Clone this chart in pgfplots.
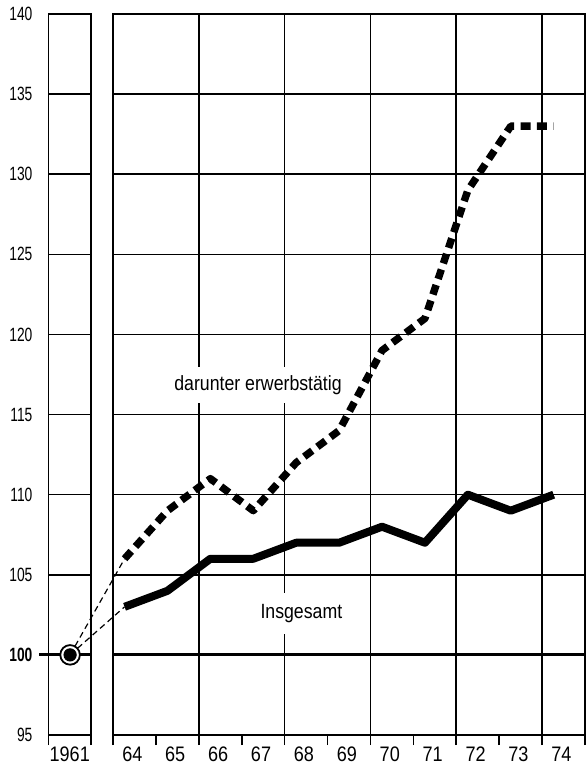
\documentclass[border=0pt]{standalone}
\usepackage{fontspec}
\setmainfont{Liberation Sans}[FakeStretch=0.86]
\newfontfamily\ylabfont{Liberation Sans}[FakeStretch=0.72]
\usepackage{pgfplots}
\pgfplotsset{compat=1.18}

\pgfplotsset{panel/.style={scale only axis,height=360.5pt,ymin=95,ymax=140,
  ytick={95,100,...,140},ymajorgrids,grid style={line width=0.8pt,black},
  axis line style={line width=0.8pt},major tick length=0pt,minor tick length=5pt,
  tick align=outside,xtick pos=bottom,ytick pos=left,
  minor tick style={line width=0.8pt,black},
  x tick label style={font=\fontsize{10.5}{12}\selectfont,anchor=base,yshift=-13pt},
  clip=false}}

\begin{document}
\begin{tikzpicture}
\path[use as bounding box] (-24.25pt,-16.5pt) rectangle (268.75pt,367.5pt);
% 1961 panel
\begin{axis}[panel,width=21.25pt,at={(0pt,0pt)},anchor=south west,
  xmin=0,xmax=1,xtick={0.5},xticklabels={1961},minor xtick={0,1},
  yticklabels={95,\textbf{100},105,110,115,120,125,130,135,140},
  y tick label style={font=\ylabfont\fontsize{9.6}{11}\selectfont,anchor=east,xshift=-4.5pt}]
\draw[line width=1.5pt] (axis cs:-0.22,100) -- (axis cs:1,100);
\end{axis}
% 1964-74 panel
\begin{axis}[panel,width=236pt,at={(32.25pt,0pt)},anchor=south west,
  xmin=64,xmax=75,
  xtick={64.45,65.45,66.45,67.45,68.45,69.45,70.45,71.45,72.45,73.45,74.45},
  xticklabels={64,65,66,67,68,69,70,71,72,73,74},
  minor xtick={64,65,...,75},yticklabels={},
  extra x ticks={66,68,70,72,74},extra x tick labels={},
  extra x tick style={xmajorgrids=true}]
\draw[line width=1.5pt] (axis cs:64,100) -- (axis cs:75,100);
\node[fill=white,inner xsep=2pt,minimum height=18pt,font=\fontsize{10.3}{12}\selectfont]
  at (axis cs:67.38,116.85) {darunter erwerbstätig};
\node[fill=white,inner xsep=2pt,minimum height=20.5pt,font=\fontsize{10.3}{12}\selectfont]
  at (axis cs:68.39,102.6) {Insgesamt};
% 1961 = 100
\addplot[black,line width=0.6pt,dash pattern=on 3pt off 2pt] coordinates {(63,100) (64.27,103)};
\addplot[black,line width=0.6pt,dash pattern=on 3pt off 2pt] coordinates {(63,100) (64.27,106)};
% Insgesamt
\addplot[black,line width=4pt,line join=round] coordinates {
(64.27,103) (65.27,104) (66.27,106) (67.27,106) (68.27,107) (69.27,107)
(70.27,108) (71.27,107) (72.27,110) (73.27,109) (74.27,110)};
% darunter erwerbstaetig
\addplot[black,line width=3.7pt,dash pattern=on 5pt off 3.2pt,line join=round] coordinates {
(64.27,106) (65.27,109) (66.27,111) (67.27,109) (68.27,112) (69.27,114)
(70.27,119) (71.27,121) (72.27,129) (73.27,133) (74.27,133)};
\addplot[only marks,mark=*,mark size=4.9pt,mark options={fill=white,draw=black,line width=0.9pt}]
  coordinates {(63,100)};
\addplot[only marks,mark=*,mark size=3.1pt,black] coordinates {(63,100)};
\end{axis}
\end{tikzpicture}
\end{document}
